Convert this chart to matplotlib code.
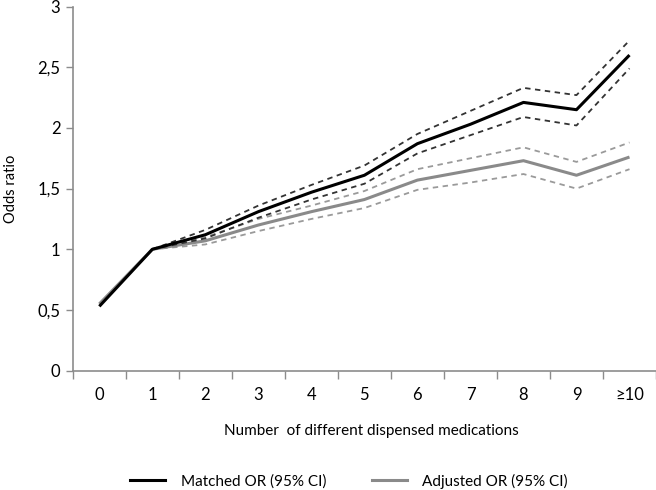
import matplotlib
matplotlib.use("Agg")
import matplotlib.pyplot as plt
from matplotlib.lines import Line2D

plt.rcParams['font.family'] = ['Lato', 'DejaVu Sans']

categories = ["0", "1", "2", "3", "4", "5", "6", "7", "8", "9", "≥10"]
matched = [0.53, 1.00, 1.12, 1.31, 1.47, 1.61, 1.87, 2.03, 2.21, 2.15, 2.60]
matched_hi = [1.00, 1.16, 1.36, 1.53, 1.69, 1.95, 2.14, 2.33, 2.27, 2.72]
matched_lo = [1.00, 1.09, 1.26, 1.41, 1.54, 1.79, 1.94, 2.09, 2.02, 2.49]
adjusted = [0.55, 1.00, 1.07, 1.20, 1.31, 1.41, 1.57, 1.65, 1.73, 1.61, 1.76]
adjusted_hi = [1.00, 1.10, 1.25, 1.36, 1.48, 1.66, 1.75, 1.84, 1.72, 1.88]
adjusted_lo = [1.00, 1.04, 1.15, 1.25, 1.34, 1.49, 1.55, 1.62, 1.50, 1.66]
yticks = [0, 0.5, 1, 1.5, 2, 2.5, 3]
ytick_labels = ["0", "0,5", "1", "1,5", "2", "2,5", "3"]

fig = plt.figure(figsize=(6.56, 4.90), dpi=100)
ax = fig.add_axes([0.111, 0.2435, 0.889, 0.7432])

x = list(range(len(categories)))
xci = x[1:]
axis_grey = "#8c8c8c"

ax.plot(xci, adjusted_hi, color="#9a9a9a", lw=1.3, ls=(0, (3, 2.5)))
ax.plot(xci, adjusted_lo, color="#9a9a9a", lw=1.3, ls=(0, (3, 2.5)))
ax.plot(x, adjusted, color="#8a8a8a", lw=2.2, solid_capstyle="butt")
ax.plot(xci, matched_hi, color="#333333", lw=1.3, ls=(0, (3, 2.5)))
ax.plot(xci, matched_lo, color="#333333", lw=1.3, ls=(0, (3, 2.5)))
ax.plot(x, matched, color="#000000", lw=2.2, solid_capstyle="butt")

ax.set_xlim(-0.5, len(categories) - 0.5)
ax.set_ylim(0, 3)
ax.set_xticks(x)
ax.set_xticklabels(categories, fontsize=12)
ax.set_xticks([i - 0.5 for i in range(len(categories) + 1)], minor=True)
ax.tick_params(axis='x', which='major', length=0, pad=12, colors="#000000")
ax.tick_params(axis='x', which='minor', length=6, width=1, color=axis_grey, direction='out')
ax.set_yticks(yticks)
ax.set_yticklabels(ytick_labels, fontsize=12)
ax.tick_params(axis='y', length=5, width=1, color=axis_grey, pad=4)

for s in ["top", "right"]:
    ax.spines[s].set_visible(False)
for s in ["left", "bottom"]:
    ax.spines[s].set_color(axis_grey)
    ax.spines[s].set_linewidth(1.2)

ax.set_ylabel("Odds ratio", fontsize=10.5, labelpad=14)
fig.text(0.566, 0.12, "Number  of different dispensed medications", fontsize=11,
         ha="center", va="center")

handles = [Line2D([], [], color="#000000", lw=2.2),
           Line2D([], [], color="#8a8a8a", lw=2.2)]
fig.legend(handles, ["Matched OR (95% CI)", "Adjusted OR (95% CI)"],
           loc="center", bbox_to_anchor=(0.532, 0.018), ncol=2, frameon=False,
           fontsize=11, handlelength=2.3, columnspacing=3.0, handletextpad=1.0)

fig.savefig("out.png", dpi=100)
